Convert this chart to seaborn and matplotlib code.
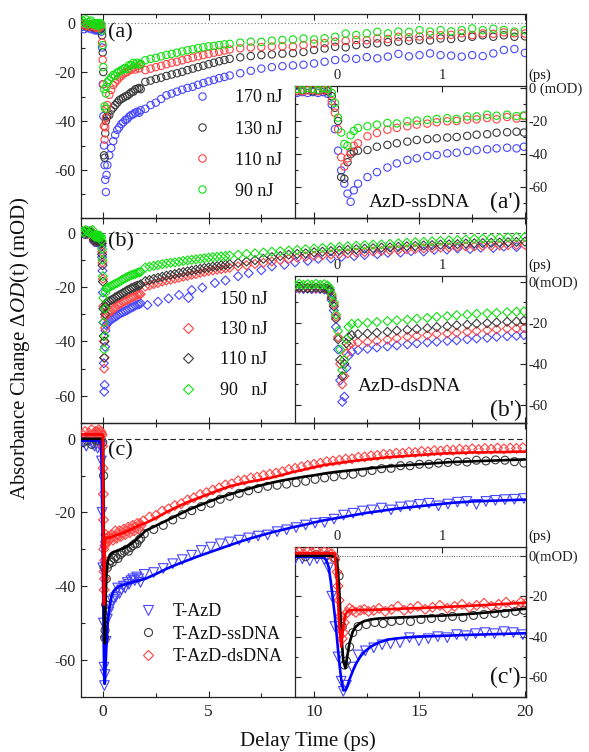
import matplotlib
matplotlib.use("Agg")
import matplotlib.pyplot as plt
from matplotlib.lines import Line2D
from matplotlib.ticker import MultipleLocator, FixedLocator, FuncFormatter
import numpy as np
import seaborn as sns

# ---------------------------------------------------------------
# (a) AzD-ssDNA at four pump energies: early (fine) and late delays
# ---------------------------------------------------------------
A_T_EARLY = [-0.98, -0.90, -0.82, -0.74, -0.66, -0.58, -0.50, -0.43, -0.38, -0.33, -0.28, -0.23, -0.18, -0.13, -0.09,
             -0.05, -0.02, 0.01, 0.04, 0.07, 0.10, 0.13, 0.16,
             0.20, 0.29, 0.38, 0.48, 0.57, 0.67, 0.76, 0.86, 0.95, 1.05, 1.14, 1.24, 1.33, 1.43, 1.52, 1.62, 1.71, 1.78]
A_170_EARLY = [-1.5, -2.5, -1.0, -2.0, -1.5, -2.5, -2.0, -2.5, -3.0, -2.5, -3.0, -2.5, -3.0, -2.5, -3.5,
               -10, -25, -38, -50, -58, -64, -69, -62,
               -58, -54, -51, -48.2, -45.7, -43.6, -42.6, -41.2, -40.6, -39.6, -39.2, -38.2, -37.6, -37.2, -36.6, -36.2, -36.6, -35.6]
A_130_EARLY = [-0.5, -1.0, 0.0, -1.5, -0.5, -1.0, -1.5, -1.5, -2.0, -1.5, -1.0, -2.0, -1.5, -1.0, -2.0,
               -5, -12, -20, -54, -55, -45, -40, -38.6,
               -38.0, -37.6, -35.6, -34.5, -33.5, -32.5, -31.5, -31.0, -30.5, -30.0, -29.7, -29.0, -28.3, -28.0, -27.1, -26.8, -26.5, -27.0]
A_110_EARLY = [-0.5, 0.0, -1.0, -0.5, -1.5, -1.0, -0.5, -1.0, -1.5, -2.0, -1.5, -1.0, -2.0, -1.5, -1.0,
               -8, -15, -25, -42, -47.6, -42.6, -38.6, -35,
               -33.5, -29.3, -27.3, -25.3, -24.2, -23.2, -22.2, -21.6, -20.8, -20.2, -20.0, -19.2, -19.0, -18.2, -19.0, -17.6, -18.5, -17.0]
A_90_EARLY = [1.0, 0.0, 1.5, -0.5, 0.5, 1.0, -0.5, 0.0, -0.5, -1.0, 0.0, -0.5, -1.0, 0.0, -0.5,
              -3, -9, -18, -27, -34, -35, -28.7, -26,
              -24.2, -23.2, -22.2, -21.2, -21.5, -20.2, -19.8, -19.3, -18.8, -18.3, -18.8, -17.2, -17.2, -16.2, -16.8, -16.2, -17.0, -16.6]

A_T_LATE = [2.0, 2.25, 2.5, 2.75, 3.0, 3.25, 3.5, 3.75, 4.0, 4.25, 4.5, 4.75, 5.0, 5.25, 5.5, 5.75, 6.0,
            6.5, 7.0, 7.5, 8.0, 8.5, 9.0, 9.5, 10.0, 10.5, 11.0, 11.5, 12.0, 12.5, 13.0, 13.5, 14.0,
            14.5, 15.0, 15.5, 16.0, 16.5, 17.0, 17.5, 18.0, 18.5, 19.0, 19.5, 20.0]
A_170_LATE = [-35.0, -33.5, -32.5, -31.0, -29.5, -28.8, -28.0, -27.2, -26.5, -26.0, -25.2, -24.5, -23.8, -23.2, -22.5, -22.0, -21.4,
              -20.5, -19.5, -18.6, -18.0, -17.6, -17.3, -17.0, -16.5, -15.8, -15.1, -14.4, -14.6, -13.9, -14.4, -13.7, -12.6,
              -13.6, -13.1, -12.4, -13.1, -13.3, -13.7, -13.1, -13.5, -12.4, -11.0, -10.6, -12.2]
A_130_LATE = [-24.0, -23.5, -22.8, -22.3, -21.6, -21.0, -20.5, -19.9, -19.2, -18.6, -18.0, -17.4, -16.8, -16.2, -15.6, -15.1, -14.6,
              -14.0, -13.5, -13.1, -12.8, -12.5, -12.3, -11.8, -11.0, -10.4, -9.7, -9.9, -9.0, -8.6, -8.3, -7.8, -7.6,
              -7.2, -6.9, -7.1, -6.3, -6.5, -6.0, -5.6, -5.0, -5.6, -5.0, -5.6, -5.4]
A_110_LATE = [-19.2, -18.6, -18.0, -17.5, -16.8, -16.2, -15.8, -15.2, -14.6, -14.1, -13.6, -13.1, -12.6, -12.1, -11.7, -11.2, -10.8,
              -10.3, -10.0, -9.8, -9.6, -9.5, -9.6, -9.0, -8.4, -8.2, -7.6, -7.3, -6.9, -7.0, -6.3, -6.5, -5.6,
              -5.8, -5.5, -4.9, -5.0, -4.8, -4.2, -4.9, -4.2, -4.4, -3.8, -4.2, -4.3]
A_90_LATE = [-15.2, -14.6, -14.2, -13.6, -13.0, -12.6, -12.1, -11.6, -11.1, -10.7, -10.2, -9.9, -9.5, -9.3, -9.0, -8.7, -8.5,
             -8.0, -7.6, -7.7, -7.2, -6.9, -6.7, -6.3, -6.7, -6.2, -5.6, -4.3, -4.9, -4.2, -3.6, -4.2, -3.5,
             -3.6, -2.9, -3.5, -2.9, -3.4, -2.9, -2.2, -2.9, -2.3, -2.8, -3.5, -2.9]
A_LABELS = ["170 nJ", "130 nJ", "110 nJ", "90 nJ"]

# ---------------------------------------------------------------
# (b) AzD-dsDNA at four pump energies
# ---------------------------------------------------------------
B_T_EARLY = [-0.98, -0.90, -0.82, -0.74, -0.66, -0.58, -0.50, -0.44, -0.40, -0.36, -0.32, -0.28, -0.24, -0.20, -0.16, -0.12, -0.09,
             -0.07, -0.05, -0.03, -0.01, 0.01, 0.03, 0.05, 0.07, 0.09, 0.11,
             0.14, 0.20, 0.29, 0.38, 0.48, 0.57, 0.67, 0.76, 0.86, 0.95, 1.05, 1.14, 1.24, 1.33, 1.43, 1.52, 1.62, 1.71, 1.78]
B_150_EARLY = [0.0, -0.5, 0.0, -0.5, 0.0, -0.5, 0.0, -3.2, -3.5, -3.3, -3.5, -3.2, -3.6, -3.4, -3.5, -3.8, -4.0,
               -5, -9, -14, -22, -33, -48, -58.5, -56, -42, -36,
               -34.0, -33.3, -32.6, -32.0, -31.5, -31.0, -30.5, -30.0, -29.5, -29.2, -28.8, -28.5, -28.0, -27.6, -27.3, -26.8, -26.5, -26.3, -26.0]
B_130_EARLY = [0.5, 0.0, 0.5, -0.5, 0.0, 0.5, 0.0, -2.8, -3.0, -3.2, -3.0, -2.8, -3.0, -3.2, -3.0, -3.3, -3.5,
               -4, -7, -11, -17, -27, -40, -50, -46, -35, -31,
               -30.0, -29.5, -29.3, -28.8, -28.2, -27.5, -26.8, -26.4, -26.0, -25.4, -25.2, -24.8, -24.4, -24.0, -23.6, -23.2, -22.8, -22.8, -22.6]
B_110_EARLY = [0.0, 0.5, -0.5, 0.0, 0.5, 0.0, -0.5, -2.5, -3.0, -2.8, -3.0, -3.2, -3.0, -2.8, -3.2, -3.0, -3.5,
               -4, -8, -12, -18, -28, -38, -46, -40, -30, -27,
               -26.0, -25.5, -25.2, -24.8, -24.4, -23.8, -23.4, -23.0, -22.6, -22.1, -21.7, -21.2, -20.9, -20.4, -20.2, -19.8, -19.5, -19.4, -19.0]
B_90_EARLY = [0.5, 0.0, 1.0, 0.5, 0.0, 0.5, 1.0, -1.0, -1.5, -1.0, -1.5, -1.2, -1.5, -1.0, -1.5, -1.2, -1.8,
              -3, -6, -10, -16, -24, -33, -43, -38, -28, -22,
              -20.5, -20.3, -20.0, -19.6, -19.2, -18.8, -18.5, -18.0, -17.6, -17.1, -16.8, -16.3, -16.0, -15.6, -15.4, -15.2, -14.8, -14.6, -14.4]

B_T_LATE = [2.0, 2.2, 2.4, 2.6, 2.8, 3.0, 3.2, 3.4, 3.6, 3.8, 4.0, 4.2, 4.4, 4.6, 4.8, 5.0, 5.2, 5.4, 5.6, 5.8, 6.0,
            6.4, 6.8, 7.2, 7.6, 8.0, 8.4, 8.8, 9.2, 9.6, 10.0, 10.4, 10.8, 11.2, 11.6, 12.0, 12.4, 12.8, 13.2, 13.6,
            14.0, 14.4, 14.8, 15.2, 15.6, 16.0, 16.4, 16.8, 17.2, 17.6, 18.0, 18.4, 18.8, 19.2, 19.6, 20.0]
B_130_LATE = [-19.8, -19.4, -18.9, -18.5, -18.0, -17.6, -17.3, -16.9, -16.6, -16.2, -15.9, -15.5, -15.2, -14.8, -14.5, -14.1, -13.9, -13.6, -13.4, -13.1, -12.9,
              -12.4, -12.0, -11.5, -11.1, -10.6, -10.1, -9.6, -9.2, -8.8, -8.5, -8.3, -8.0, -7.8, -7.6, -7.3, -7.1, -6.9, -6.7, -6.5,
              -6.3, -6.1, -6.0, -5.8, -5.6, -5.5, -5.4, -5.2, -5.1, -5.0, -4.9, -4.8, -4.7, -4.6, -4.5, -4.5]
B_110_LATE = [-17.8, -17.4, -17.0, -16.6, -16.2, -15.8, -15.5, -15.2, -14.8, -14.5, -14.2, -13.9, -13.6, -13.3, -13.0, -12.8, -12.5, -12.3, -12.0, -11.8, -11.6,
              -11.1, -10.6, -10.1, -9.6, -9.0, -8.6, -8.1, -7.8, -7.6, -7.2, -7.0, -6.8, -6.5, -6.3, -6.1, -5.9, -5.7, -5.5, -5.4,
              -5.2, -5.0, -4.9, -4.7, -4.6, -4.4, -4.3, -4.2, -4.0, -3.9, -3.8, -3.7, -3.6, -3.5, -3.4, -3.3]
B_90_LATE = [-12.8, -12.5, -12.2, -11.9, -11.6, -11.3, -11.1, -10.9, -10.7, -10.4, -10.2, -10.0, -9.8, -9.6, -9.4, -9.2, -9.0, -8.9, -8.7, -8.6, -8.4,
             -8.1, -7.8, -7.6, -7.3, -7.0, -6.8, -6.6, -6.3, -6.1, -5.8, -5.6, -5.4, -5.2, -5.0, -4.8, -4.6, -4.4, -4.3, -4.1,
             -3.9, -3.7, -3.5, -3.4, -3.2, -3.0, -2.8, -2.7, -2.5, -2.3, -2.2, -2.0, -1.9, -1.7, -1.6, -1.5]
B_150_T_LATE = [2.1, 2.6, 3.1, 3.6, 4.2, 4.7, 5.3, 5.8, 6.4, 6.9, 7.5, 8.0, 8.6, 9.1, 9.7, 10.2, 10.8,
                11.3, 11.9, 12.4, 13.0, 13.5, 14.1, 14.6, 15.2, 15.7, 16.3, 16.8, 17.4, 17.9, 18.5, 19.0, 19.6]
B_150_LATE = [-26.6, -25.4, -24.2, -22.9, -21.1, -20.2, -18.5, -17.6, -16.0, -14.9, -13.8, -12.4, -11.8, -10.9, -10.4, -9.6, -9.5,
              -8.9, -8.6, -8.2, -7.9, -7.4, -7.3, -6.8, -6.9, -6.3, -6.2, -5.8, -6.0, -5.5, -5.6, -5.1, -5.3]
B_LABELS = ["150 nJ", "130 nJ", "110 nJ", "90   nJ"]

# ---------------------------------------------------------------
# (c) T-AzD, T-AzD-ssDNA, T-AzD-dsDNA with fitted curves
# ---------------------------------------------------------------
C_FIT_T_EARLY = [-1.05, -0.40, -0.20, -0.12, -0.10, -0.08, -0.06, -0.04, -0.02, 0.00,
                 0.02, 0.04, 0.06, 0.08, 0.10, 0.12, 0.15, 0.18, 0.22, 0.26,
                 0.32, 0.40, 0.50, 0.65, 0.82, 1.00, 1.20, 1.40, 1.60, 1.80]
C_FIT_T_LATE = [2.0, 2.5, 3.0, 3.5, 4.0, 4.5, 5.0, 5.5, 6.0, 6.5, 7.0, 7.5, 8.0, 8.5, 9.0, 9.5, 10.0, 10.5, 11.0,
                11.5, 12.0, 12.5, 13.0, 13.5, 14.0, 14.5, 15.0, 15.5, 16.0, 16.5, 17.0, 17.5, 18.0, 18.5, 19.0, 19.5, 20.0]
C_FIT_AZD_EARLY = [-0.5, -0.5, -0.6, -1.0, -2.5, -5.5, -12.5, -21.0, -30.0, -41.0,
                   -52.0, -61.0, -66.5, -66.5, -64.0, -61.0, -57.0, -53.5, -50.0, -47.5,
                   -45.0, -42.8, -41.3, -40.4, -39.9, -39.6, -39.2, -38.9, -38.6, -38.3]
C_FIT_AZD_LATE = [-38.0, -36.7, -35.3, -34.1, -33.0, -31.9, -30.9, -29.9, -28.9, -27.9, -27.0, -26.2, -25.4, -24.7, -24.0, -23.4, -22.7, -22.1, -21.6,
                  -21.1, -20.6, -20.1, -19.7, -19.3, -18.9, -18.6, -18.3, -18.0, -17.7, -17.4, -17.2, -17.0, -16.9, -16.8, -16.7, -16.6, -16.5]
C_FIT_SS_EARLY = [0.0, 0.0, 0.0, 0.0, 0.0, 0.0, 0.0, -0.3, -0.8, -2.0,
                  -15.0, -38.0, -52.0, -55.5, -49.0, -43.0, -37.5, -35.0, -33.3, -32.3,
                  -31.5, -31.0, -30.7, -30.4, -30.0, -29.6, -29.0, -28.2, -27.2, -26.2]
C_FIT_SS_LATE = [-25.0, -23.6, -22.2, -20.8, -19.4, -18.2, -17.1, -16.0, -15.1, -14.2, -13.4, -12.6, -11.9, -11.3, -10.8, -10.3, -9.9, -9.4, -9.0,
                 -8.7, -8.4, -8.1, -7.8, -7.5, -7.3, -7.1, -6.9, -6.7, -6.5, -6.3, -6.2, -6.1, -6.0, -5.9, -5.8, -5.7, -5.6]
C_FIT_DS_EARLY = [1.2, 1.2, 1.2, 1.2, 1.2, 1.2, 1.2, 1.2, 1.0, -12.0,
                  -33.0, -45.0, -35.0, -29.0, -27.5, -27.0, -26.8, -26.8, -26.8, -26.8,
                  -26.8, -26.6, -26.4, -26.1, -25.8, -25.4, -24.9, -24.4, -23.8, -23.2]
C_FIT_DS_LATE = [-22.9, -21.5, -19.9, -18.5, -17.2, -16.1, -15.0, -13.9, -12.9, -12.2, -11.6, -11.1, -10.5, -9.8, -9.0, -8.4, -7.7, -7.1, -6.7,
                 -6.3, -5.9, -5.6, -5.3, -5.0, -4.8, -4.6, -4.4, -4.2, -4.0, -3.9, -3.8, -3.7, -3.7, -3.6, -3.6, -3.5, -3.5]

C_AZD_T_EARLY = [-0.95, -0.80, -0.65, -0.50, -0.40, -0.33, -0.26, -0.19, -0.12, -0.08,
                 -0.05, -0.02, 0.01, 0.04, 0.06, 0.09, 0.14, 0.20, 0.27, 0.35,
                 0.43, 0.51, 0.60, 0.69, 0.78, 0.87, 0.96, 1.05, 1.14, 1.23,
                 1.32, 1.41, 1.50, 1.59, 1.68, 1.77]
C_AZD_EARLY = [-1.0, -2.0, -0.5, -1.5, -2.0, -1.5, -2.5, -1.5, -2.0, -6.0,
               -20.0, -35.0, -50.0, -62.0, -67.0, -64.0, -55.0, -49.0, -47.0, -45.5,
               -44.0, -43.5, -43.0, -40.5, -42.0, -41.0, -40.0, -40.5, -39.0, -39.5,
               -38.5, -38.0, -38.5, -37.5, -38.0, -39.0]
C_MARK_T_LATE = [1.95, 2.40, 2.85, 3.30, 3.75, 4.20, 4.65, 5.10, 5.55, 6.00, 6.45, 6.90, 7.35, 7.80,
                 8.25, 8.70, 9.15, 9.60, 10.05, 10.50, 10.95, 11.40, 11.85, 12.30, 12.75, 13.20, 13.65,
                 14.10, 14.55, 15.00, 15.45, 15.90, 16.35, 16.80, 17.25, 17.70, 18.15, 18.60, 19.05, 19.50, 19.95]
C_AZD_LATE = [-36.8, -36.3, -35.2, -33.9, -32.8, -31.6, -30.3, -29.4, -28.5, -28.0, -27.5, -26.9, -26.4, -26.1,
              -25.2, -24.7, -24.1, -23.4, -22.9, -22.7, -21.8, -20.7, -20.2, -19.6, -19.3, -18.8, -19.3,
              -18.5, -18.2, -17.8, -17.5, -18.2, -17.7, -17.2, -17.0, -17.8, -17.0, -16.7, -16.5, -16.4, -16.2]

C_SS_T_EARLY = [-0.95, -0.75, -0.55, -0.40, -0.30, -0.20, -0.10, -0.02, 0.02, 0.05,
                0.07, 0.09, 0.12, 0.15, 0.20, 0.28, 0.36, 0.44, 0.52, 0.60,
                0.70, 0.80, 0.90, 1.00, 1.10, 1.20, 1.30, 1.40, 1.50, 1.60, 1.70, 1.78]
C_SS_EARLY = [-1.0, -0.5, -1.5, 0.0, -0.5, 0.5, 0.0, -1.0, -10.0, -35.0,
              -54.0, -52.0, -45.0, -38.0, -35.0, -34.0, -33.0, -33.5, -32.5, -32.0,
              -32.5, -31.5, -31.0, -30.5, -30.0, -30.5, -29.5, -29.0, -28.5, -28.5, -27.5, -27.0]
C_SS_LATE = [-25.8, -24.6, -23.5, -22.0, -20.6, -19.5, -18.4, -17.5, -16.4, -15.6, -14.8, -14.1, -13.5, -12.9,
             -12.6, -12.3, -11.9, -11.5, -11.0, -10.6, -10.3, -9.8, -9.6, -9.1, -8.6, -8.1, -8.0,
             -7.3, -7.3, -6.9, -6.9, -6.6, -6.4, -6.1, -6.3, -5.8, -6.0, -5.7, -5.8, -6.2, -6.6]

C_DS_T_EARLY = [-0.95, -0.85, -0.75, -0.65, -0.55, -0.46, -0.40, -0.36, -0.32, -0.28, -0.24, -0.20, -0.16, -0.12, -0.08, -0.05,
                -0.02, 0.00, 0.01, 0.02, 0.03, 0.04, 0.05, 0.06, 0.07, 0.08,
                0.10, 0.12, 0.15, 0.18, 0.22, 0.26, 0.30, 0.35, 0.40, 0.46, 0.52, 0.58, 0.64, 0.70, 0.77,
                0.84, 0.91, 0.98, 1.05, 1.12, 1.19, 1.26, 1.33, 1.40, 1.47, 1.54, 1.61, 1.68, 1.75, 1.80]
C_DS_EARLY = [1.0, 2.0, 0.5, 1.5, 2.5, 1.0, 1.5, 2.0, 1.0, 2.0, 1.5, 2.5, 1.0, 2.0, 1.5, 1.0,
              -2.0, -8.0, -15.0, -22.0, -30.0, -36.0, -41.0, -38.0, -33.0, -29.0,
              -28.0, -26.0, -27.0, -28.0, -27.0, -26.5, -27.5, -27.0, -26.0, -27.5, -26.5, -25.0, -27.0, -26.0, -25.0,
              -26.5, -25.5, -24.5, -26.0, -25.0, -24.0, -25.5, -24.5, -23.5, -25.0, -24.0, -23.0, -24.5, -23.0, -23.5]
C_DS_T_LATE = [1.9, 2.2, 2.5, 2.8, 3.1, 3.4, 3.7, 4.0, 4.3, 4.6, 4.9, 5.2, 5.5, 5.8, 6.1, 6.4, 6.7, 7.0, 7.3, 7.6,
               7.9, 8.2, 8.5, 8.8, 9.1, 9.4, 9.7, 10.0, 10.3, 10.6, 10.9, 11.2, 11.5, 11.8, 12.1, 12.4, 12.7, 13.0,
               13.3, 13.6, 13.9, 14.2, 14.5, 14.8, 15.1, 15.4, 15.7, 16.0, 16.3, 16.6, 16.9, 17.2, 17.5, 17.8, 18.1,
               18.4, 18.7, 19.0, 19.3, 19.6, 19.9]
C_DS_LATE = [-22.3, -21.2, -20.8, -19.6, -19.0, -18.1, -17.6, -16.6, -16.0, -15.1, -14.6, -13.9, -13.3, -12.5, -12.2, -11.4, -11.2, -10.6, -10.4, -9.9,
             -9.6, -9.3, -8.9, -8.3, -8.0, -7.6, -7.2, -6.9, -6.6, -6.2, -6.0, -5.8, -5.5, -5.4, -5.0, -4.9, -4.6, -4.5,
             -4.2, -4.2, -3.9, -3.9, -3.6, -3.7, -3.4, -3.5, -3.2, -3.3, -3.0, -3.1, -2.8, -3.0, -2.7, -2.9, -2.6,
             -2.8, -2.5, -2.7, -2.5, -2.6, -2.4]
C_LABELS = ["T-AzD", "T-AzD-ssDNA", "T-AzD-dsDNA"]

# ---------------------------------------------------------------
# styling
# ---------------------------------------------------------------
sns.set_theme(style="ticks")
plt.rcParams.update({
    "font.family": ["Liberation Serif", "DejaVu Serif"],
    "mathtext.fontset": "custom",
    "mathtext.rm": "Liberation Serif",
    "mathtext.it": "Liberation Serif:italic",
    "axes.unicode_minus": False,
    "axes.edgecolor": "#222222",
    "axes.linewidth": 0.9,
    "xtick.color": "#222222",
    "ytick.color": "#222222",
    "text.color": "#111111",
})

BLUE = "#4646ff"
BLACK = "#3a3a3a"
RED = "#ff4242"
GREEN = "#12e012"
LINE_BLUE, LINE_BLACK, LINE_RED = "#0000ff", "#000000", "#ff0000"


def hollow(ax, t, v, color, marker, size, z=3):
    sns.scatterplot(x=np.asarray(t, float), y=np.asarray(v, float), ax=ax, marker=marker, s=size,
                    color=color, facecolor="none", edgecolor=color, linewidth=0.8,
                    legend=False, zorder=z)


def fitline(ax, t, v, color, z=5):
    sns.lineplot(x=np.asarray(t, float), y=np.asarray(v, float), ax=ax, color=color, lw=1.9,
                 sort=False, estimator=None, legend=False, zorder=z)


def style_main(ax, ylim, show_x):
    ax.set_xlim(-1.05, 20.05)
    ax.set_ylim(*ylim)
    ax.xaxis.set_major_locator(MultipleLocator(5))
    ax.xaxis.set_minor_locator(MultipleLocator(2.5))
    ax.yaxis.set_major_locator(MultipleLocator(20))
    ax.yaxis.set_minor_locator(MultipleLocator(10))
    ax.tick_params(which="both", direction="in", top=True, bottom=True, left=True, right=False,
                   labelbottom=show_x, width=0.8)
    ax.tick_params(which="major", length=4.5)
    ax.tick_params(which="minor", length=3)
    ax.tick_params(axis="y", labelsize=11.5, pad=4)
    ax.tick_params(axis="x", labelsize=12.5, pad=5)
    ax.set_xlabel("")
    ax.set_ylabel("")
    for s in ax.spines.values():
        s.set_visible(True)


def style_inset(ax, ylim, zero_label):
    ax.set_xlim(-0.4, 1.8)
    ax.set_ylim(*ylim)
    ax.xaxis.set_major_locator(FixedLocator([0, 1]))
    ax.yaxis.set_major_locator(MultipleLocator(20))
    ax.yaxis.set_minor_locator(MultipleLocator(10))
    ax.tick_params(axis="x", which="both", direction="in", top=True, bottom=False,
                   labeltop=True, labelbottom=False, labelsize=10.5, pad=3, length=4, width=0.8)
    ax.tick_params(axis="y", which="both", direction="in", left=True, right=True,
                   labelleft=False, labelright=True, labelsize=10.5, pad=2, width=0.8)
    ax.tick_params(axis="y", which="major", length=4)
    ax.tick_params(axis="y", which="minor", length=2.5)
    ax.yaxis.set_major_formatter(FuncFormatter(
        lambda v, p: zero_label if abs(v) < 1e-9 else f"{v:.0f}"))
    ax.annotate("(ps)", xy=(1, 1), xycoords="axes fraction", xytext=(2, 3),
                textcoords="offset points", ha="left", va="bottom", fontsize=10.5)
    ax.set_xlabel("")
    ax.set_ylabel("")
    ax.set_facecolor("white")


def legend(ax, handles, labels, anchor, spacing, pad):
    ax.legend(handles, labels, loc="upper left", bbox_to_anchor=anchor, frameon=False,
              fontsize=13, handlelength=1.0, handletextpad=pad, labelspacing=spacing,
              borderpad=0, borderaxespad=0)


def handle(color, marker, ms):
    return Line2D([], [], ls="none", marker=marker, ms=ms, mfc="none", mec=color, mew=0.8)


fig = plt.figure(figsize=(5.89, 7.52), dpi=100)
W_PX, H_PX = 589, 752
L, W = 81 / W_PX, 445 / W_PX
IL, IW = 295 / W_PX, 231 / W_PX

axA = fig.add_axes([L, 1 - 218 / H_PX, W, 204 / H_PX])
axB = fig.add_axes([L, 1 - 423 / H_PX, W, 205 / H_PX])
axC = fig.add_axes([L, 1 - 697 / H_PX, W, 274 / H_PX])
insA = fig.add_axes([IL, 1 - 218 / H_PX, IW, 132 / H_PX])
insB = fig.add_axes([IL, 1 - 423 / H_PX, IW, 147 / H_PX])
insC = fig.add_axes([IL, 1 - 697 / H_PX, IW, 150 / H_PX])
for ax in (axA, axB, axC):
    ax.set_zorder(3)
    ax.patch.set_visible(False)
for ax in (insA, insB, insC):
    ax.set_zorder(2)

# ---- panel (a) ----
a_series = [(A_170_EARLY, A_170_LATE, BLUE), (A_130_EARLY, A_130_LATE, BLACK),
            (A_110_EARLY, A_110_LATE, RED), (A_90_EARLY, A_90_LATE, GREEN)]
for early, late, col in a_series:
    hollow(axA, A_T_EARLY + A_T_LATE, early + late, col, "o", 28)
    hollow(insA, A_T_EARLY, early, col, "o", 28)
axA.axhline(0, color="#777777", lw=0.8, ls=(0, (1, 2)), zorder=1)
style_main(axA, (-79.6, 3.7), False)
style_inset(insA, (-78.8, 1.2), "0 (mOD)")
legend(axA, [handle(c, "o", 5.3) for _, _, c in a_series], A_LABELS, (0.252, 0.63), 0.78, 1.3)
axA.text(0.06, 0.955, "(a)", transform=axA.transAxes, fontsize=16, ha="left", va="top")
insA.text(0.975, 0.035, "(a')", transform=insA.transAxes, fontsize=17, ha="right", va="bottom")
insA.text(0.54, 0.05, "AzD-ssDNA", transform=insA.transAxes, fontsize=14, ha="center", va="bottom")

# ---- panel (b) ----
hollow(axB, B_T_EARLY, B_150_EARLY, BLUE, "D", 21)
hollow(axB, B_150_T_LATE, B_150_LATE, BLUE, "D", 21)
hollow(insB, B_T_EARLY, B_150_EARLY, BLUE, "D", 21)
b_series = [(B_130_EARLY, B_130_LATE, RED), (B_110_EARLY, B_110_LATE, BLACK),
            (B_90_EARLY, B_90_LATE, GREEN)]
for early, late, col in b_series:
    hollow(axB, B_T_EARLY + B_T_LATE, early + late, col, "D", 21)
    hollow(insB, B_T_EARLY, early, col, "D", 21)
axB.axhline(0, color="#555555", lw=0.7, ls=(0, (4, 3)), zorder=1)
style_main(axB, (-70.0, 5.4), False)
style_inset(insB, (-68.8, 2.8), "0(mOD)")
legend(axB, [handle(c, "D", 4.6) for c in (BLUE, RED, BLACK, GREEN)], B_LABELS,
       (0.22, 0.645), 0.74, 1.3)
axB.text(0.06, 0.93, "(b)", transform=axB.transAxes, fontsize=16, ha="left", va="top")
insB.text(0.983, 0.015, "(b')", transform=insB.transAxes, fontsize=17, ha="right", va="bottom")
insB.text(0.494, 0.19, "AzD-dsDNA", transform=insB.transAxes, fontsize=14, ha="center", va="bottom")

# ---- panel (c) ----
for ax, with_late in ((axC, True), (insC, False)):
    t_b = C_AZD_T_EARLY + (C_MARK_T_LATE if with_late else [])
    v_b = C_AZD_EARLY + (C_AZD_LATE if with_late else [])
    t_k = C_SS_T_EARLY + (C_MARK_T_LATE if with_late else [])
    v_k = C_SS_EARLY + (C_SS_LATE if with_late else [])
    t_r = C_DS_T_EARLY + (C_DS_T_LATE if with_late else [])
    v_r = C_DS_EARLY + (C_DS_LATE if with_late else [])
    hollow(ax, t_b, v_b, BLUE, "v", 48)
    hollow(ax, t_k, v_k, BLACK, "o", 33)
    hollow(ax, t_r, v_r, RED, "D", 25)
    ft = C_FIT_T_EARLY + (C_FIT_T_LATE if with_late else [])
    fitline(ax, ft, C_FIT_AZD_EARLY + (C_FIT_AZD_LATE if with_late else []), LINE_BLUE)
    fitline(ax, ft, C_FIT_SS_EARLY + (C_FIT_SS_LATE if with_late else []), LINE_BLACK)
    fitline(ax, ft, C_FIT_DS_EARLY + (C_FIT_DS_LATE if with_late else []), LINE_RED)
axC.axhline(0, color="#222222", lw=0.8, ls=(0, (5, 3)), zorder=1)
insC.hlines(0, 0.0, 1.8, color="#555555", lw=0.7, ls=(0, (1, 1.5)), zorder=1)
style_main(axC, (-70.1, 4.3), True)
style_inset(insC, (-69.8, 4.3), "0(mOD)")
legend(axC, [handle(BLUE, "v", 7.0), handle(BLACK, "o", 5.8), handle(RED, "D", 5.0)], C_LABELS,
       (0.13, 0.342), 0.3, 0.9)
axC.text(0.06, 0.935, "(c)", transform=axC.transAxes, fontsize=16, ha="left", va="top")
insC.text(0.975, 0.06, "(c')", transform=insC.transAxes, fontsize=17, ha="right", va="bottom")

# ---- shared axis titles ----
fig.text(20 / W_PX, 1 - 348 / H_PX, r"Absorbance Change $\Delta\mathit{OD}$(t) (mOD)",
         rotation=90, ha="center", va="center", fontsize=15)
fig.text(308 / W_PX, 1 - 741 / H_PX, "Delay Time (ps)", ha="center", va="center", fontsize=15)

fig.savefig("out.png", dpi=100, facecolor="white")
